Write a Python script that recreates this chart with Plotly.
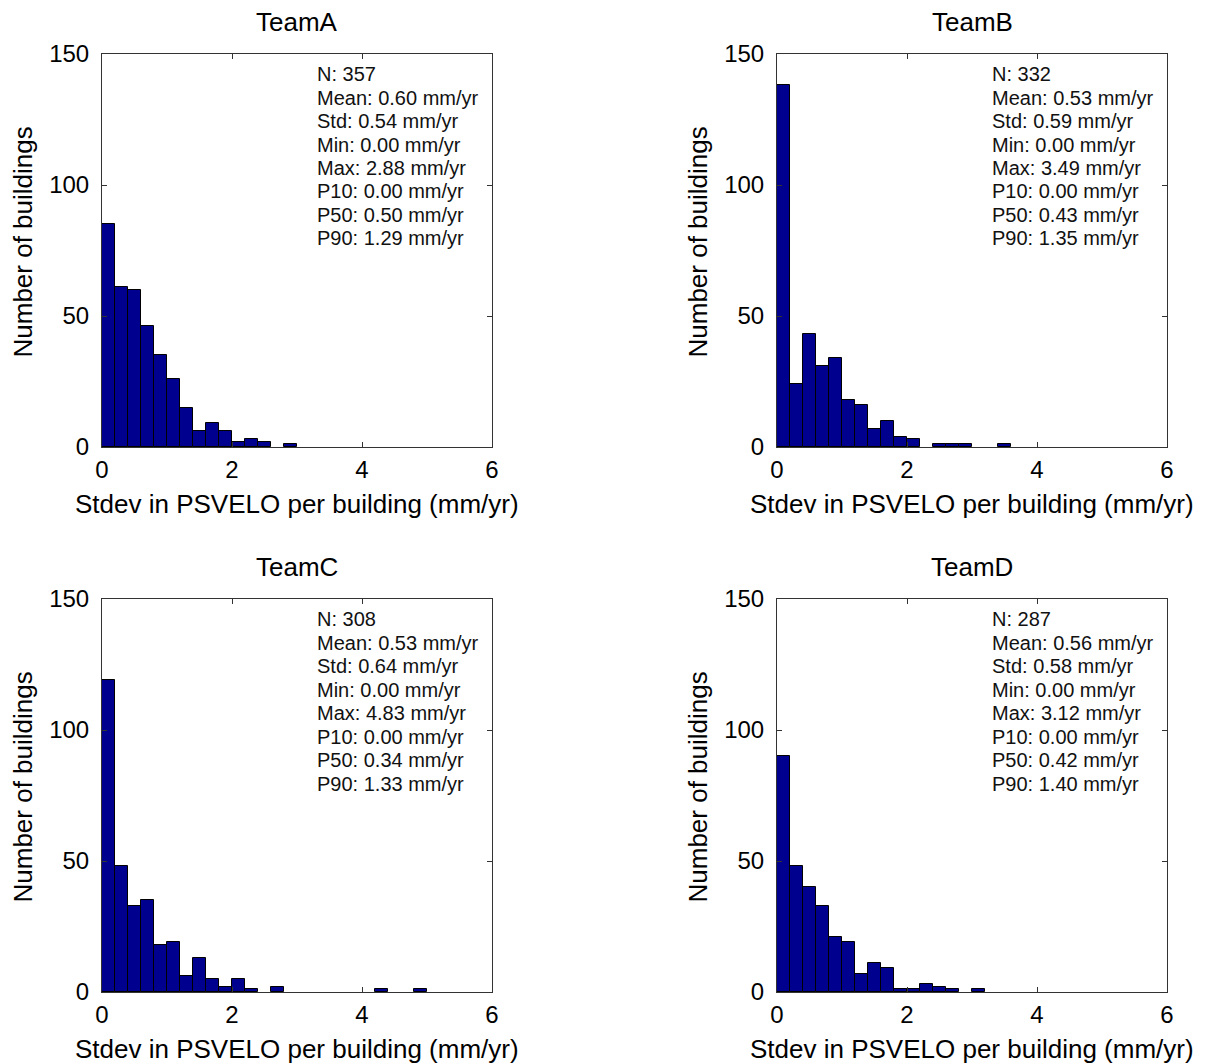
import plotly.graph_objects as go

# ---------------- data ----------------
teams = ["TeamA", "TeamB", "TeamC", "TeamD"]
bin_centers = [0.1, 0.3, 0.5, 0.7, 0.9, 1.1, 1.3, 1.5, 1.7, 1.9, 2.1, 2.3, 2.5,
               2.7, 2.9, 3.1, 3.3, 3.5, 3.7, 3.9, 4.1, 4.3, 4.5, 4.7, 4.9]
counts_A = [85, 61, 60, 46, 35, 26, 15, 6, 9, 6, 2, 3, 2, 0, 1, 0, 0, 0, 0, 0, 0, 0, 0, 0, 0]
counts_B = [138, 24, 43, 31, 34, 18, 16, 7, 10, 4, 3, 0, 1, 1, 1, 0, 0, 1, 0, 0, 0, 0, 0, 0, 0]
counts_C = [119, 48, 33, 35, 18, 19, 6, 13, 5, 2, 5, 1, 0, 2, 0, 0, 0, 0, 0, 0, 0, 1, 0, 0, 1]
counts_D = [90, 48, 40, 33, 21, 19, 7, 11, 9, 1, 1, 3, 2, 1, 0, 1, 0, 0, 0, 0, 0, 0, 0, 0, 0]

stats_labels = ["N", "Mean", "Std", "Min", "Max", "P10", "P50", "P90"]
stats_A = ["357", "0.60", "0.54", "0.00", "2.88", "0.00", "0.50", "1.29"]
stats_B = ["332", "0.53", "0.59", "0.00", "3.49", "0.00", "0.43", "1.35"]
stats_C = ["308", "0.53", "0.64", "0.00", "4.83", "0.00", "0.34", "1.33"]
stats_D = ["287", "0.56", "0.58", "0.00", "3.12", "0.00", "0.42", "1.40"]

x_title = "Stdev in PSVELO per building (mm/yr)"
y_title = "Number of buildings"
x_ticks = [0, 2, 4, 6]
y_ticks = [0, 50, 100, 150]

# ---------------- layout helpers ----------------
W, H = 1216, 1064
FONT = "Liberation Sans, Arial, sans-serif"
BAR_COLOR = "rgb(0,0,143)"
AX_COLOR = "#333333"

def px_x(p):
    return p / W

def px_y(p):
    return 1 - p / H

# plot boxes in pixels: (left, top, right, bottom)
boxes = [(102, 54, 492, 447), (777, 54, 1167, 447),
         (102, 599, 492, 992), (777, 599, 1167, 992)]
all_counts = [counts_A, counts_B, counts_C, counts_D]
all_stats = [stats_A, stats_B, stats_C, stats_D]

fig = go.Figure()
annotations = []
layout_axes = {}

for i, (team, counts, stats, box) in enumerate(zip(teams, all_counts, all_stats, boxes)):
    n = i + 1
    xa = "x" if n == 1 else f"x{n}"
    ya = "y" if n == 1 else f"y{n}"
    L, T, R, B = box
    fig.add_trace(go.Bar(
        x=bin_centers,
        y=[c if c > 0 else None for c in counts],
        width=0.2,
        marker=dict(color=BAR_COLOR, line=dict(color="black", width=1)),
        xaxis=xa, yaxis=ya, showlegend=False,
    ))
    axis_common = dict(
        showline=True, linecolor=AX_COLOR, linewidth=1, mirror="ticks",
        ticks="inside", ticklen=5, tickcolor=AX_COLOR, showgrid=False,
        zeroline=False, tickfont=dict(family=FONT, size=24, color="black"),
        fixedrange=True, automargin=False,
    )
    layout_axes["xaxis" if n == 1 else f"xaxis{n}"] = dict(
        axis_common, domain=[px_x(L), px_x(R)], range=[0, 6],
        tickvals=x_ticks, ticktext=[str(t) for t in x_ticks],
        anchor=ya, ticklabelstandoff=1,
    )
    layout_axes["yaxis" if n == 1 else f"yaxis{n}"] = dict(
        axis_common, domain=[px_y(B), px_y(T)], range=[0, 150],
        tickvals=y_ticks, ticktext=[str(t) for t in y_ticks],
        anchor=xa, ticklabelstandoff=7,
    )
    # subplot title
    annotations.append(dict(
        text=team, xref="paper", yref="paper",
        x=px_x((L + R) / 2), y=px_y(T - 32), xanchor="center", yanchor="middle",
        showarrow=False, font=dict(family=FONT, size=26, color="black"),
    ))
    # x axis title
    annotations.append(dict(
        text=x_title, xref="paper", yref="paper",
        x=px_x((L + R) / 2), y=px_y(B + 57), xanchor="center", yanchor="middle",
        showarrow=False, font=dict(family=FONT, size=26, color="black"),
    ))
    # y axis title
    annotations.append(dict(
        text=y_title, xref="paper", yref="paper", textangle=-90,
        x=px_x(L - 80), y=px_y((T + B) / 2 - 8), xanchor="center", yanchor="middle",
        showarrow=False, font=dict(family=FONT, size=26, color="black"),
    ))
    # stats lines
    for j, (lab, val) in enumerate(zip(stats_labels, stats)):
        txt = f"{lab}: {val}" if lab == "N" else f"{lab}: {val} mm/yr"
        annotations.append(dict(
            text=txt, xref="paper", yref="paper",
            x=px_x(L + 213), y=px_y(T + 20 + 23.5 * j), xanchor="left", yanchor="middle",
            showarrow=False, font=dict(family=FONT, size=20, color="#111111"),
        ))

fig.update_layout(
    width=W, height=H,
    margin=dict(l=0, r=0, t=0, b=0, pad=0, autoexpand=False),
    paper_bgcolor="white", plot_bgcolor="white",
    bargap=0,
    annotations=annotations,
    **layout_axes,
)

fig.write_html("out.html")
